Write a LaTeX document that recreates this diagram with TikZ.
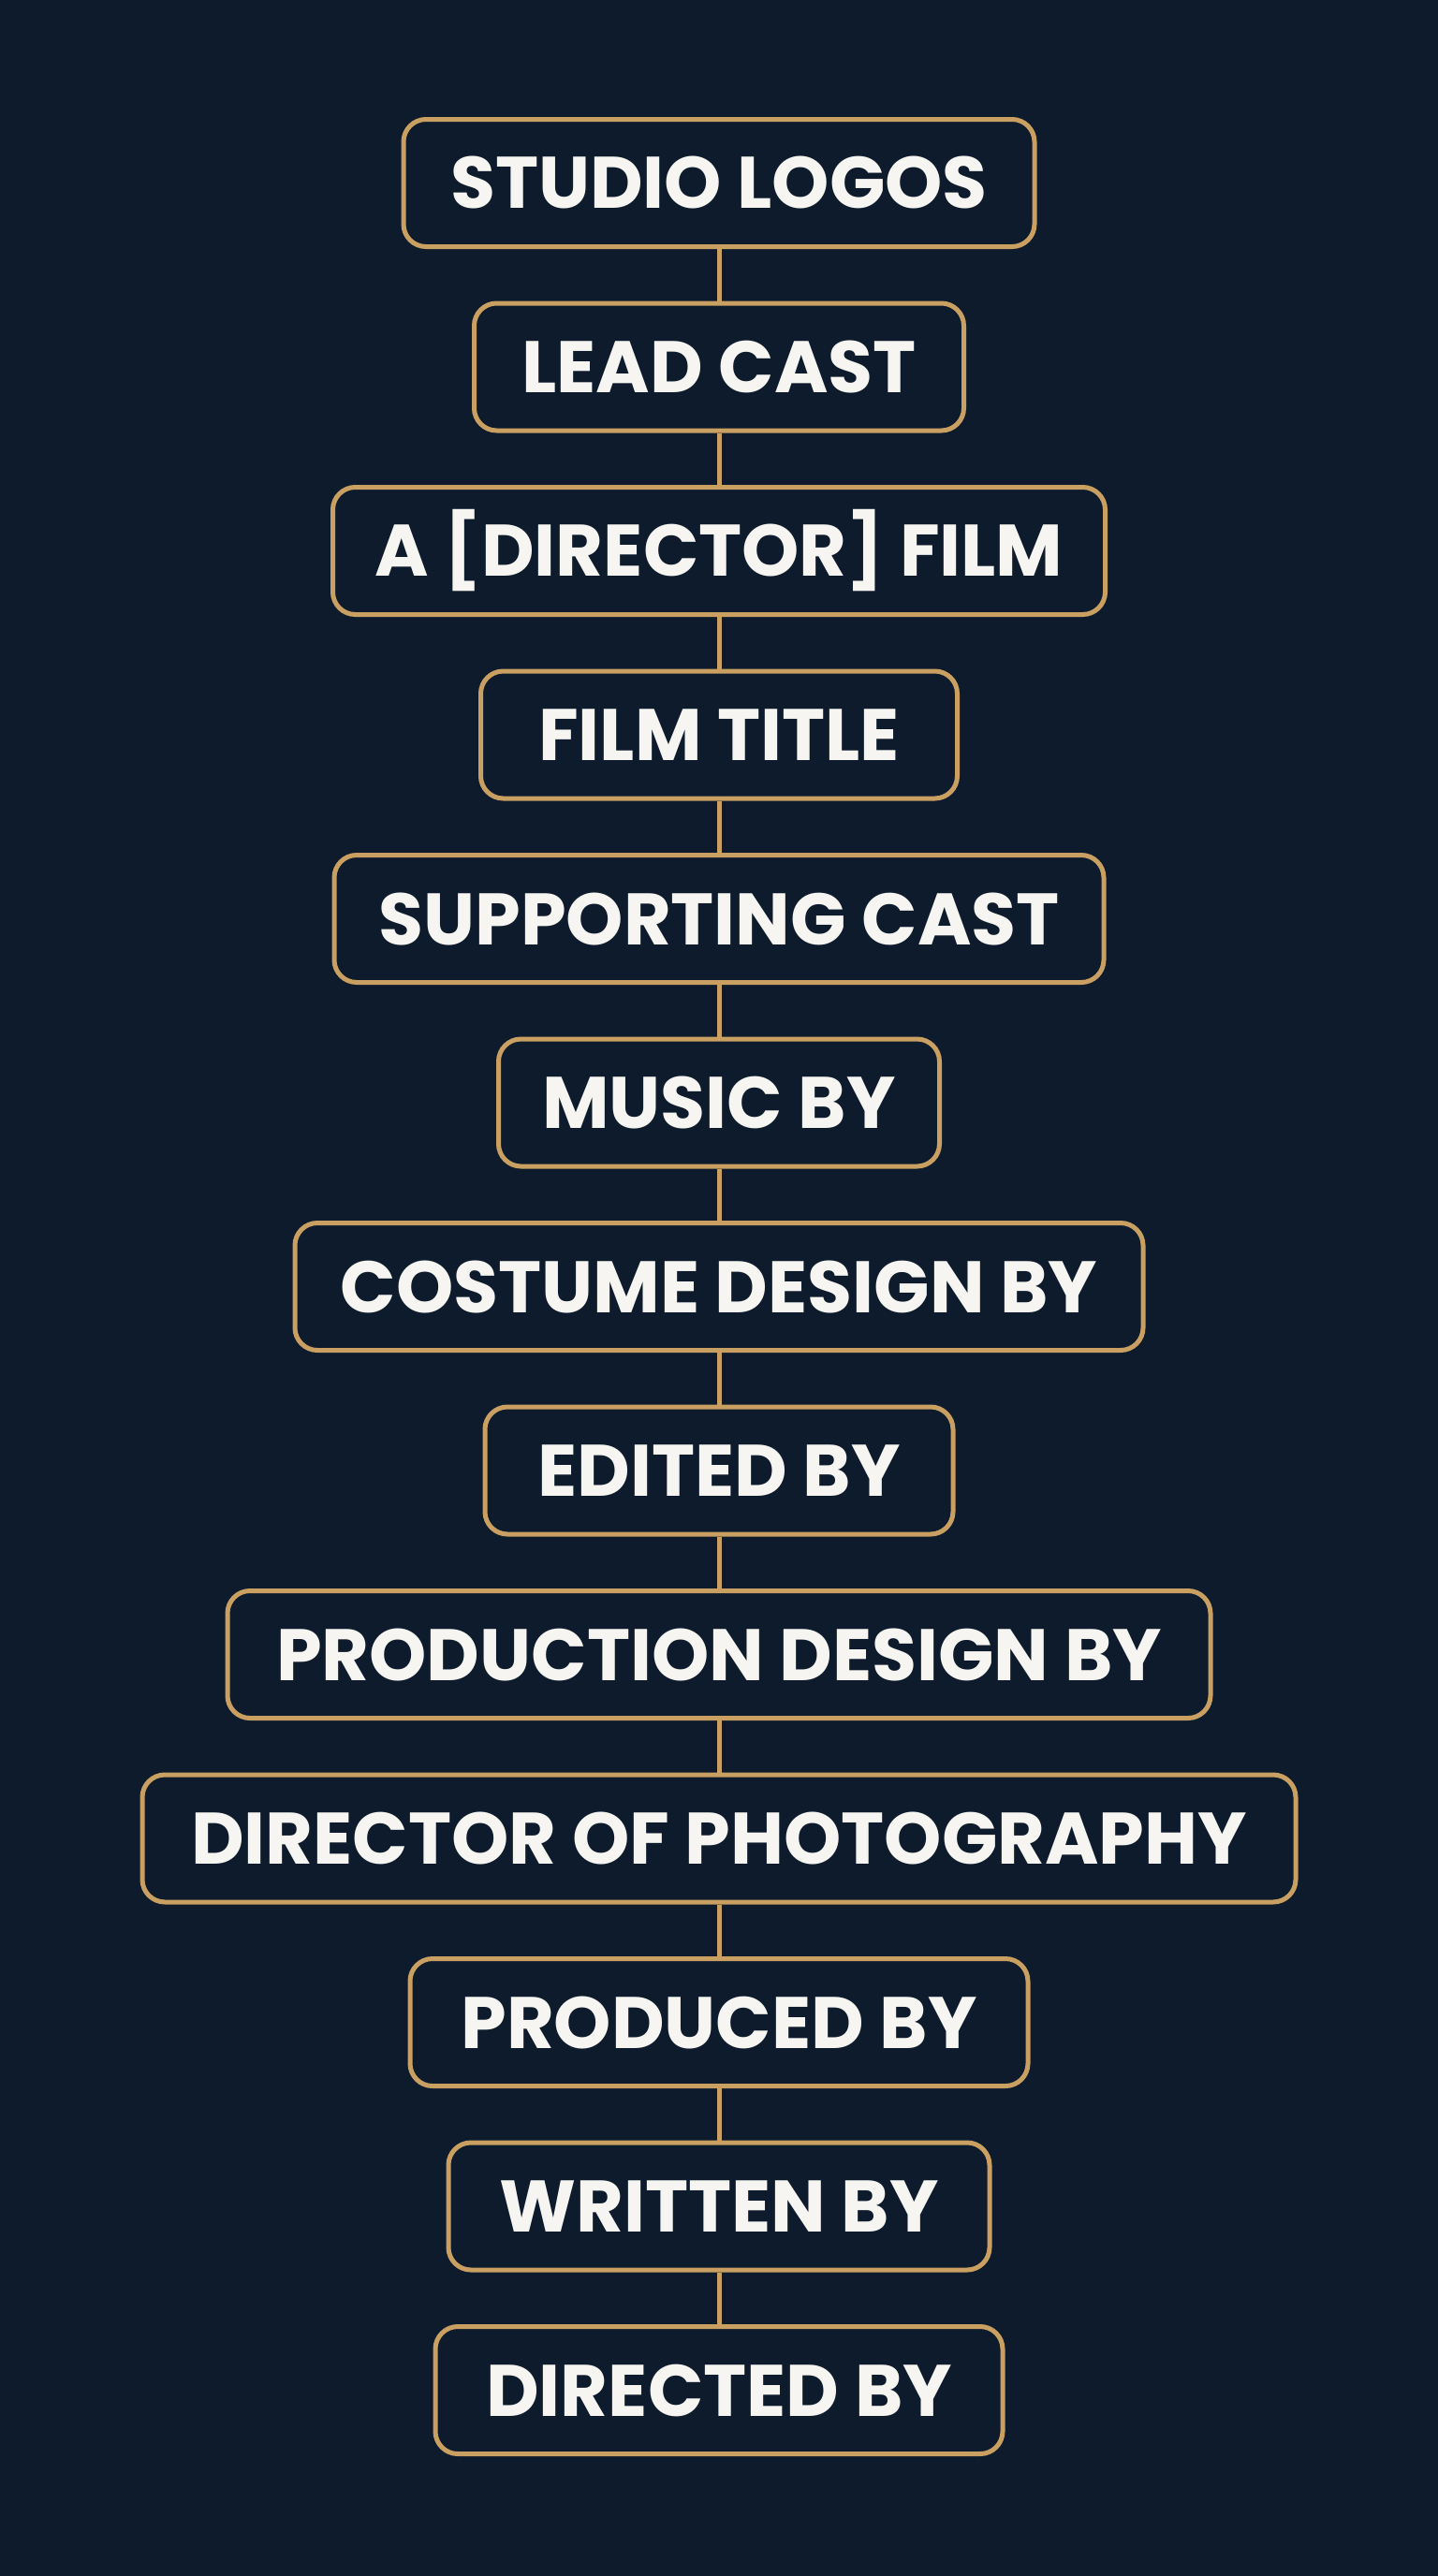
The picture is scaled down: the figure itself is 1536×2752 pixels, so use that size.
\documentclass[tikz,border=0pt]{standalone}
\usepackage{fontspec}
\setmainfont{Poppins}
\definecolor{bgnavy}{HTML}{0D1B2C}
\definecolor{gold}{HTML}{C9A062}
\definecolor{txtwhite}{HTML}{F6F5F1}
\tikzset{
  stagebox/.style={draw=gold, line width=5pt, fill=bgnavy, rounded corners=24pt,
    minimum height=136pt, inner sep=0pt, text=txtwhite,
    font=\fontsize{78}{88}\selectfont\bfseries, anchor=center},
  link/.style={draw=gold, line width=5pt}
}
\begin{document}
\begin{tikzpicture}[x=1pt,y=-1pt]
\fill[bgnavy] (0,0) rectangle (1536,2752);
\useasboundingbox (0,0) rectangle (1536,2752);
\node[stagebox, minimum width=674pt]  (n1)  at (768,195.5)  {STUDIO LOGOS};
\node[stagebox, minimum width=523pt]  (n2)  at (768,392)    {LEAD CAST};
\node[stagebox, minimum width=825pt]  (n3)  at (768,588.5)  {A [DIRECTOR] FILM};
\node[stagebox, minimum width=509pt]  (n4)  at (768,785)    {FILM TITLE};
\node[stagebox, minimum width=822pt]  (n5)  at (768,981.5)  {SUPPORTING CAST};
\node[stagebox, minimum width=471pt]  (n6)  at (768,1178)   {MUSIC BY};
\node[stagebox, minimum width=906pt]  (n7)  at (768,1374.5) {COSTUME DESIGN BY};
\node[stagebox, minimum width=500pt]  (n8)  at (768,1571)   {EDITED BY};
\node[stagebox, minimum width=1050pt] (n9)  at (768,1767.5) {PRODUCTION DESIGN BY};
\node[stagebox, minimum width=1232pt] (n10) at (768,1964)   {DIRECTOR OF PHOTOGRAPHY};
\node[stagebox, minimum width=660pt]  (n11) at (768,2160.5) {PRODUCED BY};
\node[stagebox, minimum width=578pt]  (n12) at (768,2357)   {WRITTEN BY};
\node[stagebox, minimum width=606pt]  (n13) at (768,2553.5) {DIRECTED BY};
\foreach \a/\b in {n1/n2,n2/n3,n3/n4,n4/n5,n5/n6,n6/n7,n7/n8,n8/n9,n9/n10,n10/n11,n11/n12,n12/n13}
  \draw[link] (\a.south) -- (\b.north);
\end{tikzpicture}
\end{document}
